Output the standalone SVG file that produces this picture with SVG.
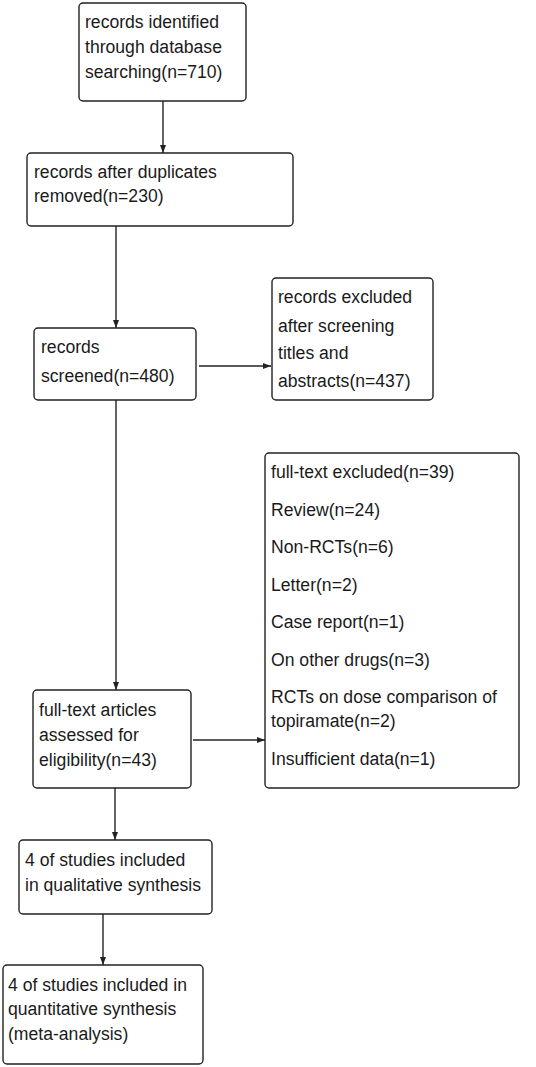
<svg xmlns="http://www.w3.org/2000/svg" width="536" height="1067" viewBox="0 0 536 1067">
<style>
rect.b{fill:#fff;stroke:#222;stroke-width:1.4}
text{font-family:"Liberation Sans",Arial,sans-serif;font-size:17.6px;fill:#1a1a1a}
.c line{stroke:#222;stroke-width:1.4}
</style>
<defs>
<marker id="ah" viewBox="0 0 8 8" refX="8" refY="4" markerWidth="8" markerHeight="8" markerUnits="userSpaceOnUse" orient="auto">
<path d="M0,1 L8,4 L0,7 Z" fill="#222"/>
</marker>
</defs>
<rect width="536" height="1067" fill="#fff"/>
<g class="c">
<line x1="163" y1="101" x2="163" y2="153" marker-end="url(#ah)"/>
<line x1="116" y1="226" x2="116" y2="328" marker-end="url(#ah)"/>
<line x1="199" y1="366" x2="271" y2="366" marker-end="url(#ah)"/>
<line x1="116" y1="400" x2="116" y2="690" marker-end="url(#ah)"/>
<line x1="193" y1="740" x2="265" y2="740" marker-end="url(#ah)"/>
<line x1="115" y1="788" x2="115" y2="840" marker-end="url(#ah)"/>
<line x1="103" y1="914" x2="103" y2="965" marker-end="url(#ah)"/>
</g>
<g id="n1"><rect class="b" x="79" y="3" width="167" height="98" rx="4"/>
<text x="85" y="28">records identified</text><text x="85" y="53">through database</text><text x="85" y="78">searching(n=710)</text></g>
<g id="n2"><rect class="b" x="27" y="153" width="266" height="73" rx="4"/>
<text x="34" y="178">records after duplicates</text><text x="34" y="202">removed(n=230)</text></g>
<g id="n3"><rect class="b" x="34" y="328" width="162" height="72" rx="4"/>
<text x="41" y="353">records</text><text x="41" y="382">screened(n=480)</text></g>
<g id="n4"><rect class="b" x="272" y="278" width="161" height="122" rx="4"/>
<text x="278" y="303">records excluded</text><text x="278" y="332">after screening</text><text x="278" y="359">titles and</text><text x="278" y="387">abstracts(n=437)</text></g>
<g id="n5"><rect class="b" x="265" y="453" width="254" height="335" rx="4"/>
<text x="271" y="478">full-text excluded(n=39)</text>
<text x="271" y="516">Review(n=24)</text>
<text x="271" y="553">Non-RCTs(n=6)</text>
<text x="271" y="591">Letter(n=2)</text>
<text x="271" y="628">Case report(n=1)</text>
<text x="271" y="666">On other drugs(n=3)</text>
<text x="271" y="703">RCTs on dose comparison of</text>
<text x="271" y="727">topiramate(n=2)</text>
<text x="271" y="765">Insufficient data(n=1)</text></g>
<g id="n6"><rect class="b" x="33" y="690" width="158" height="98" rx="4"/>
<text x="39" y="716">full-text articles</text><text x="39" y="741">assessed for</text><text x="39" y="766">eligibility(n=43)</text></g>
<g id="n7"><rect class="b" x="19" y="840" width="193" height="74" rx="4"/>
<text x="25" y="866">4 of studies included</text><text x="25" y="891">in qualitative synthesis</text></g>
<g id="n8"><rect class="b" x="3" y="965" width="200" height="99" rx="4"/>
<text x="8" y="991">4 of studies included in</text><text x="8" y="1015">quantitative synthesis</text><text x="8" y="1040">(meta-analysis)</text></g>
</svg>
